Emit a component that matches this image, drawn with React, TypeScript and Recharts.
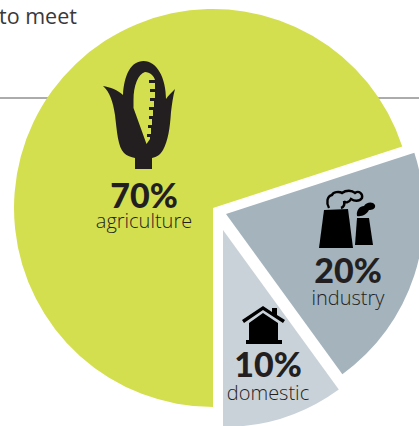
import React from 'react';
import { PieChart, Pie, Cell } from 'recharts';

const categories = ['agriculture', 'industry', 'domestic'];
const shares = [70, 20, 10];
const COLORS = ['#d4df50', '#a4b3bc', '#cad2d9'];

const data = categories.map((name, i) => ({ name, value: shares[i] }));

// each slice sits in its own Pie so it can be pulled away from the others
const CENTERS = [
  { cx: 213, cy: 208, r: 199 },
  { cx: 226, cy: 214, r: 198 },
  { cx: 223, cy: 230, r: 197 },
];
const LABEL_POS = [
  { x: 144, y: 208, sub: 228 },
  { x: 348, y: 283, sub: 305 },
  { x: 268, y: 377, sub: 400 },
];

const INK = '#231f20';
const BODY = '"Open Sans", sans-serif';
const HEAD = 'Lato, sans-serif';

const CornIcon = () => (
  <path
    fill={INK}
    fillRule="evenodd"
    d="M143.5 61C131 61 124 75 123 95C118 90 110 87 103 86C110 92 113 102 115 115C117 132 118 147 124 153C127 156 131 157 135 158L135 169L152 169L152 158C157 157 160 155 163 150C168 141 170 128 171 112C172 104 173 96 175 89C172 92 168 96 166 99C166 78 157 61 143.5 61ZM145 72C138 74 133.5 86 133.5 100L133.5 108L146.5 144L150 139L150 137L147 137L147 134L151 134L151 128L148 128L148 125L152 125L152 119L149 119L149 116L153 116L153 110L149 110L149 107L154 107L154 101L150 101L150 98L155 98L155 92L150 92L150 89L155 89L155 83L149 83L149 80L155 80C154 76 150 72 145 72Z"
  />
);

const FactoryIcon = () => (
  <g fill="#000">
    <path d="M324 210L348 209L353 248L319 248Z" />
    <path d="M357 218L369 218L373 245L355 245Z" />
    <path d="M357 216C356 210 360 206 364 206C366 202 373 201 375 205C376 209 372 210 369 210C367 214 362 217 357 216Z" />
    <path
      fill="none"
      stroke="#000"
      strokeWidth={2.4}
      d="M329 208C326 203 327 196 332 195C333 192 339 191 342 193C346 190 352 190 355 193C359 190 363 194 362 198C359 202 354 201 351 199C349 203 345 203 344 201C345 205 344 207 341 208"
    />
  </g>
);

const HouseIcon = () => (
  <g fill="#000">
    <path d="M242 320L263 306L272 312L272 308L277 308L277 315L285 320L283 323L263 310L244 323Z" />
    <path d="M263 313L278 323L278 340L282 340L282 344L246 344L246 340L249 340L249 323Z" />
  </g>
);

const App = () => (
  <div style={{ position: 'fixed', left: 0, top: 0, width: 419, height: 426, overflow: 'hidden', background: '#fff' }}>
    <PieChart width={419} height={426} margin={{ top: 0, right: 0, bottom: 0, left: 0 }}>
      <line x1={0} x2={419} y1={98} y2={98} stroke="#58595b" strokeWidth={1} />
      <text x={-1} y={24} fontFamily={BODY} fontSize={21.5} fill="#3a3839">
        to meet
      </text>
      {CENTERS.map((c, k) => (
        <Pie
          key={categories[k]}
          data={data}
          dataKey="value"
          nameKey="name"
          cx={c.cx}
          cy={c.cy}
          innerRadius={0}
          outerRadius={c.r}
          startAngle={-90}
          endAngle={-450}
          stroke="none"
          isAnimationActive={false}
        >
          {data.map((d, i) => (
            <Cell key={d.name} fill={i === k ? COLORS[i] : 'none'} />
          ))}
        </Pie>
      ))}
    </PieChart>
    {/* icons and labels go above the slices */}
    <svg width={419} height={426} style={{ position: 'absolute', left: 0, top: 0 }}>
      <CornIcon />
      <FactoryIcon />
      <HouseIcon />
      {data.map((d, i) => (
        <g key={d.name} textAnchor="middle" fill={INK}>
          <text x={LABEL_POS[i].x} y={LABEL_POS[i].y} fontFamily={HEAD} fontWeight={900} fontSize={34}>
            {d.value}%
          </text>
          <text x={LABEL_POS[i].x} y={LABEL_POS[i].sub} fontFamily={BODY} fontWeight={300} fontSize={20}>
            {d.name}
          </text>
        </g>
      ))}
    </svg>
  </div>
);

export default App;
